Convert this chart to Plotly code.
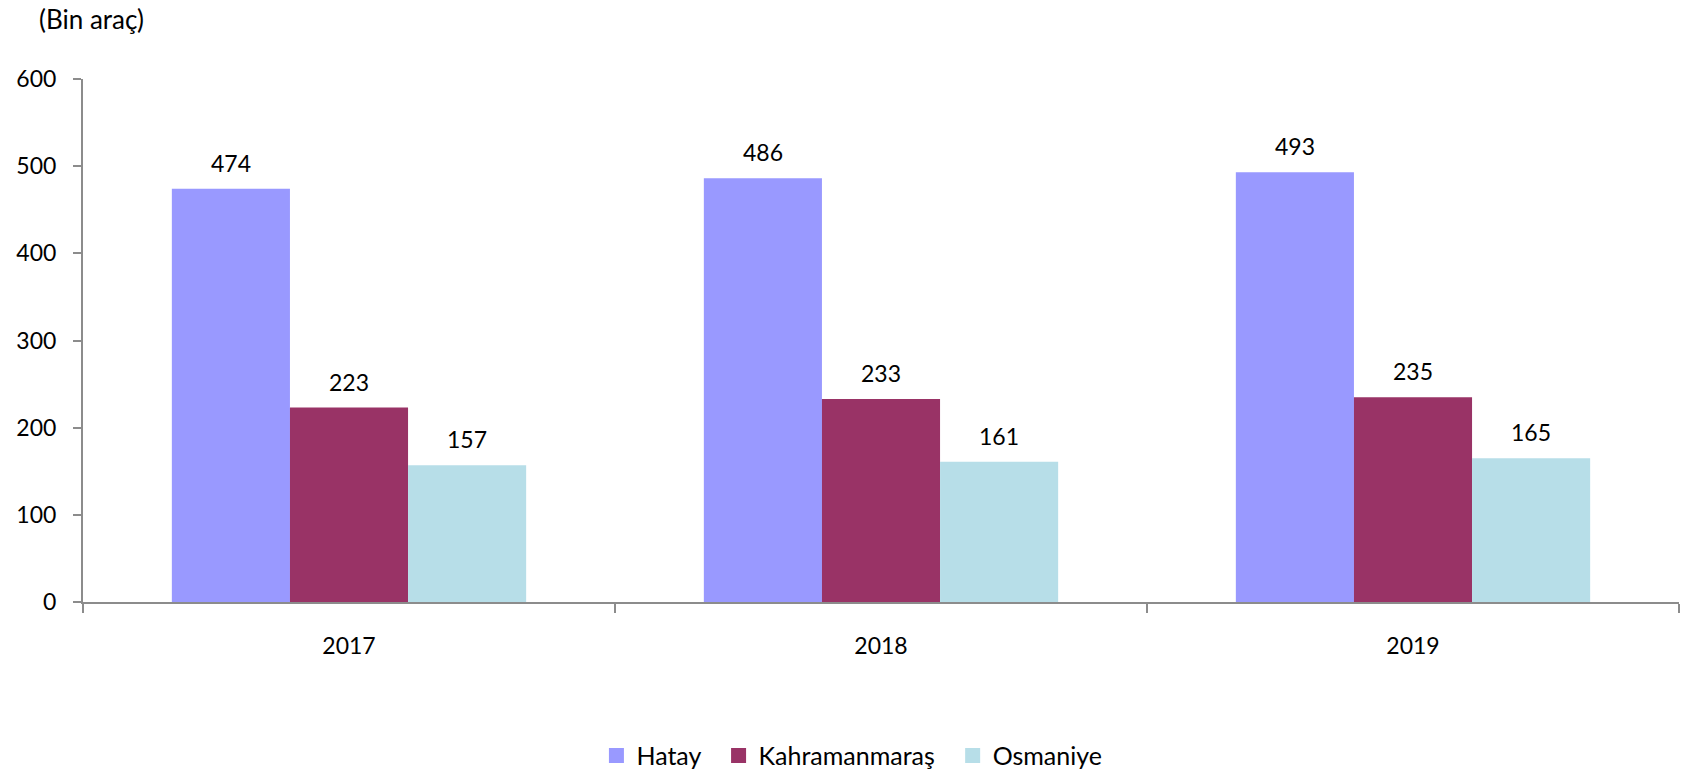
import plotly.graph_objects as go

# Registered vehicles by province (thousands)
years = ["2017", "2018", "2019"]
hatay = [474, 486, 493]
kahramanmaras = [223, 233, 235]
osmaniye = [157, 161, 165]

series = [
    ("Hatay", hatay, "#9999FF"),
    ("Kahramanmaraş", kahramanmaras, "#993366"),
    ("Osmaniye", osmaniye, "#B7DEE8"),
]

W, H = 1683, 773
M_L, M_R, M_T, M_B = 83, 4, 79, 171
BARGAP = 0.334
FONT = "Lato"
FS = 23
PAD = "\u00a0\u00a0"  # extra space after each legend entry

fig = go.Figure()
for name, vals, color in series:
    fig.add_trace(go.Bar(
        x=years, y=vals, name=name, showlegend=False,
        marker=dict(color=color, line=dict(width=0)),
    ))

# legend entries with larger square swatches
for name, vals, color in series:
    fig.add_trace(go.Scatter(
        x=[None], y=[None], mode="markers", name=name + PAD,
        marker=dict(symbol="square", size=15, color=color),
    ))

# value labels placed above each bar in its group (x given as category index)
plot_w = W - M_L - M_R
cat_px = plot_w / len(years)
bar_px = cat_px * (1 - BARGAP) / len(series)
for i, (name, vals, color) in enumerate(series):
    shift = (i - (len(series) - 1) / 2) * bar_px
    for k, v in enumerate(vals):
        fig.add_annotation(
            x=k, y=v, xref="x", yref="y", text=str(v),
            showarrow=False, xshift=shift, yshift=26,
            yanchor="middle", xanchor="center",
            font=dict(family=FONT, size=FS, color="black"),
        )

fig.add_annotation(
    text="(Bin araç)", xref="paper", yref="paper",
    x=-0.029, y=1.115, xanchor="left", yanchor="middle",
    showarrow=False, font=dict(family=FONT, size=26, color="black"),
)

fig.update_layout(
    width=W, height=H,
    margin=dict(l=M_L, r=M_R, t=M_T, b=M_B, autoexpand=False),
    paper_bgcolor="white", plot_bgcolor="white",
    barmode="group", bargap=BARGAP, bargroupgap=0,
    font=dict(family=FONT, size=FS, color="black"),
    showlegend=True,
    legend=dict(
        orientation="h", x=0.3217, xanchor="left", y=-0.294, yanchor="middle",
        font=dict(family=FONT, size=25, color="black"),
        traceorder="normal", itemsizing="trace",
    ),
    xaxis=dict(
        type="category", categoryorder="array", categoryarray=years,
        range=[-0.5, len(years) - 0.5],
        tickson="boundaries", ticks="outside", ticklen=9, tickangle=0,
        tickwidth=2, tickcolor="#8C8C8C", showline=True, linecolor="#8C8C8C",
        linewidth=2, showgrid=False, zeroline=False, ticklabelstandoff=22,
        tickfont=dict(family=FONT, size=FS, color="black"),
    ),
    yaxis=dict(
        range=[0, 600], dtick=100, ticks="outside", ticklen=8, tickwidth=2,
        tickcolor="#8C8C8C", showline=True, linecolor="#8C8C8C", linewidth=2,
        showgrid=False, zeroline=False, ticklabelstandoff=12,
        tickfont=dict(family=FONT, size=FS, color="black"),
    ),
)

fig.write_html("out.html")
